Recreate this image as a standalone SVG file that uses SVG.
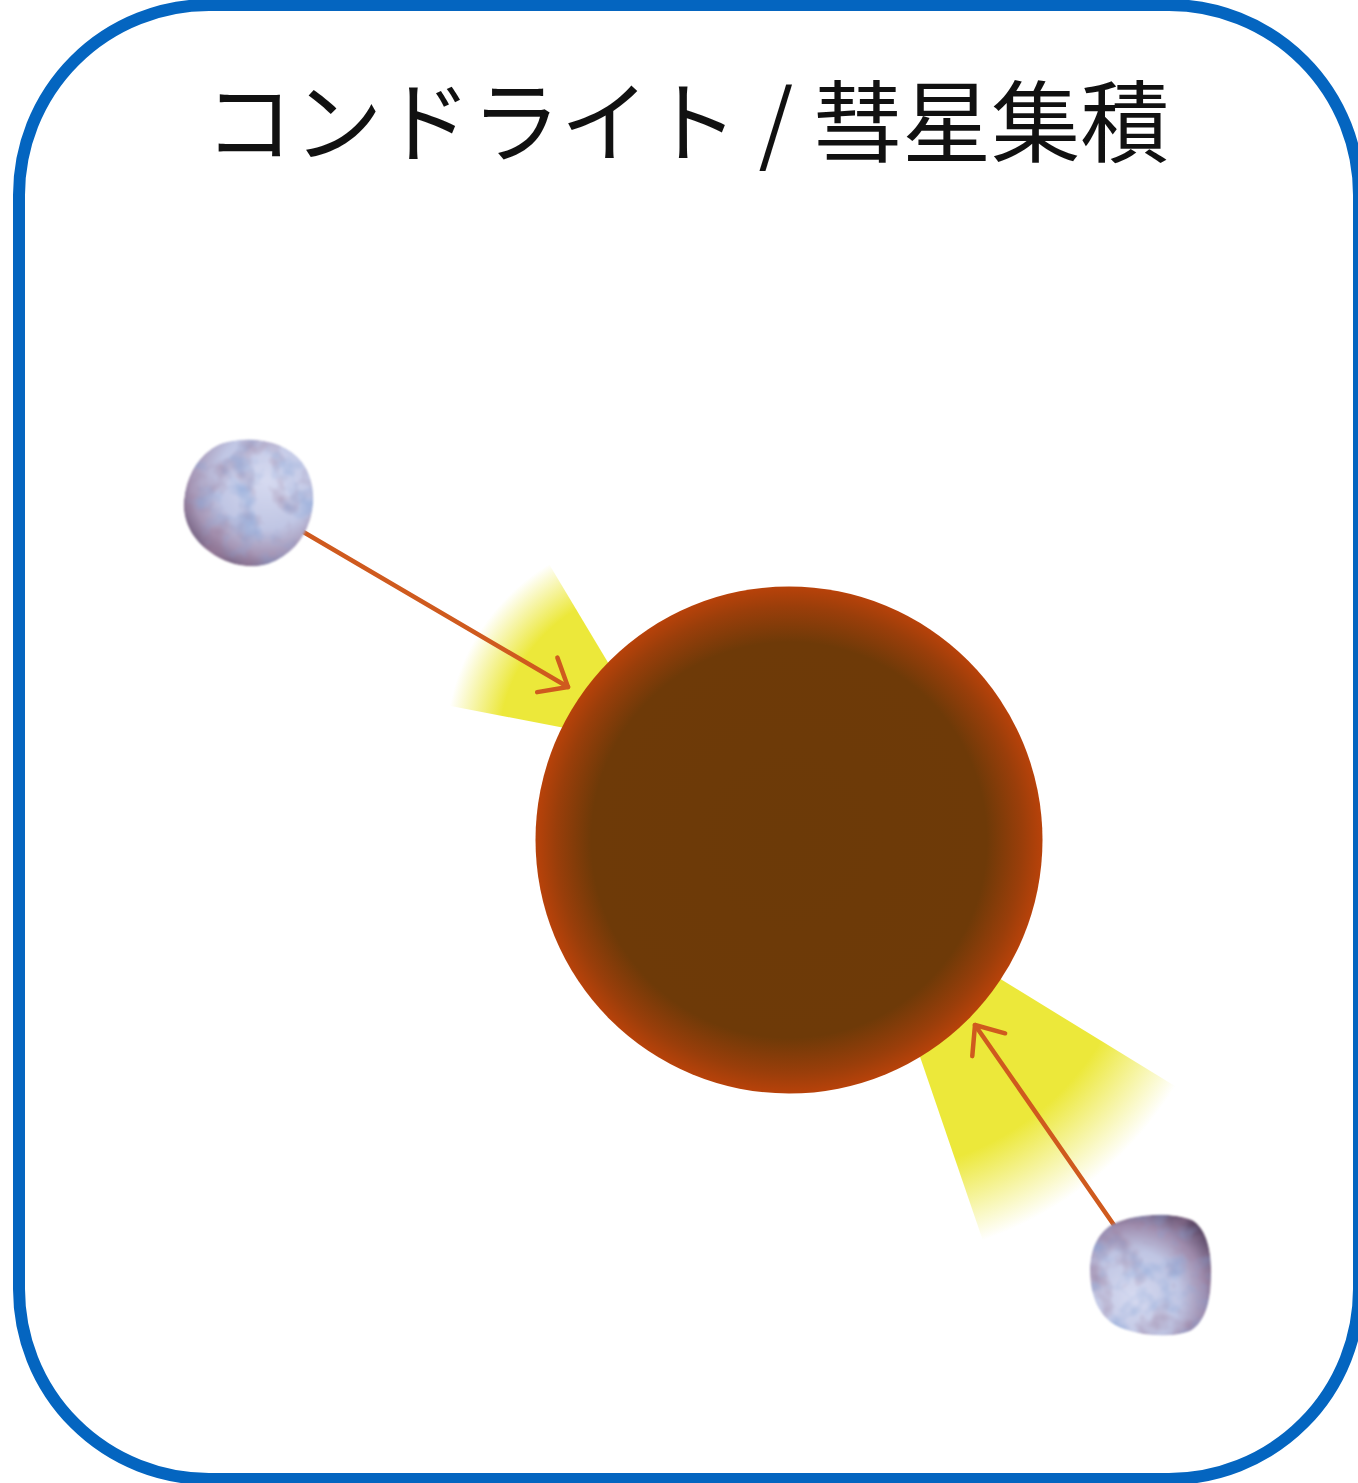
<svg xmlns="http://www.w3.org/2000/svg" width="1358" height="1483" viewBox="0 0 1358 1483">
  <style>
    .frame { fill: #ffffff; stroke: #0465c0; stroke-width: 12; }
    .title { font-family: "Noto Sans CJK JP", "Noto Sans", "Liberation Sans", sans-serif; font-size: 89px; fill: #111111; }
    .trail { fill: none; stroke: #cf5a1e; stroke-width: 4.5; stroke-linecap: round; marker-end: url(#openHead); }
  </style>
  <defs>
    <marker id="openHead" markerUnits="userSpaceOnUse" markerWidth="60" markerHeight="60" viewBox="-40 -30 50 60" refX="0" refY="0" orient="auto">
      <path d="M -24,-20 L 0,0 L -24,20" fill="none" stroke="#cf5a1e" stroke-width="4.5" stroke-linecap="round" stroke-linejoin="round"/>
    </marker>

    <!-- molten planet body -->
    <radialGradient id="planetFill" cx="0.5" cy="0.5" r="0.5">
      <stop offset="0" stop-color="#6c3a08"/>
      <stop offset="0.78" stop-color="#6e3a08"/>
      <stop offset="0.92" stop-color="#9a3e0a"/>
      <stop offset="1" stop-color="#b8420a"/>
    </radialGradient>

    <!-- impact glows, fading outward from the impact point -->
    <radialGradient id="glowUpper" gradientUnits="userSpaceOnUse" cx="658" cy="746" r="212">
      <stop offset="0" stop-color="#ece83a"/>
      <stop offset="0.75" stop-color="#ece83a"/>
      <stop offset="1" stop-color="#ece83a" stop-opacity="0"/>
    </radialGradient>
    <radialGradient id="glowLower" gradientUnits="userSpaceOnUse" cx="865" cy="896" r="364">
      <stop offset="0" stop-color="#ece83a"/>
      <stop offset="0.76" stop-color="#ece83a"/>
      <stop offset="1" stop-color="#ece83a" stop-opacity="0"/>
    </radialGradient>

    <!-- rocky bodies -->
    <radialGradient id="rockA" cx="0.64" cy="0.32" r="0.8">
      <stop offset="0" stop-color="#d6daf0"/>
      <stop offset="0.48" stop-color="#c0c6e4"/>
      <stop offset="0.74" stop-color="#a595b4"/>
      <stop offset="1" stop-color="#5c4666"/>
    </radialGradient>
    <radialGradient id="rockB" cx="0.36" cy="0.68" r="0.8">
      <stop offset="0" stop-color="#d6daf0"/>
      <stop offset="0.48" stop-color="#bfc5e3"/>
      <stop offset="0.74" stop-color="#9f8dae"/>
      <stop offset="1" stop-color="#54405e"/>
    </radialGradient>
    <filter id="rockTex" x="-10%" y="-10%" width="120%" height="120%" color-interpolation-filters="sRGB">
      <feTurbulence type="fractalNoise" baseFrequency="0.035" numOctaves="3" seed="7" result="n"/>
      <feColorMatrix in="n" type="matrix" values="0 0 0 0 0.52  0 0 0 0 0.64  0 0 0 0 0.84  1.7 0 0 0 -0.82" result="blue"/>
      <feColorMatrix in="n" type="matrix" values="0 0 0 0 0.60  0 0 0 0 0.48  0 0 0 0 0.60  0 1.5 0 0 -0.74" result="purple"/>
      <feMerge result="tex">
        <feMergeNode in="SourceGraphic"/>
        <feMergeNode in="purple"/>
        <feMergeNode in="blue"/>
      </feMerge>
      <feComposite in="tex" in2="SourceGraphic" operator="in" result="clipped"/>
      <feGaussianBlur in="clipped" stdDeviation="1.2"/>
    </filter>
  </defs>

  <!-- panel frame -->
  <rect class="frame" x="19" y="5" width="1340" height="1474" rx="190" ry="190"/>

  <g id="title">
    <text class="title" x="687" y="155" text-anchor="middle">コンドライト / 彗星集積</text>
  </g>

  <g id="impact-glows">
    <polygon id="glow-upper" points="658,746 537,544 425,701" fill="url(#glowUpper)"/>
    <polygon id="glow-lower" points="865,896 1214,1110 994,1273" fill="url(#glowLower)"/>
  </g>

  <g id="planet">
    <circle cx="789" cy="840" r="253.5" fill="url(#planetFill)"/>
  </g>

  <g id="connectors">
    <line class="trail" x1="300" y1="530" x2="568" y2="687"/>
    <line class="trail" x1="1116" y1="1228" x2="975" y2="1025"/>
  </g>

  <g id="asteroid-upper">
    <path d="M 232,441 C 260,436 288,444 302,462 C 314,478 316,500 310,520 C 304,540 290,556 268,564 C 248,570 226,564 210,552 C 192,540 182,520 184,500 C 186,478 196,460 210,450 C 216,445 224,442 232,441 Z" fill="url(#rockA)" filter="url(#rockTex)"/>
  </g>

  <g id="asteroid-lower">
    <path d="M 1113,1224 C 1132,1214 1170,1211 1192,1220 C 1206,1228 1212,1250 1211,1275 C 1211,1300 1206,1322 1190,1331 C 1170,1339 1135,1336 1115,1325 C 1098,1315 1090,1295 1090,1270 C 1090,1250 1098,1232 1113,1224 Z" fill="url(#rockB)" filter="url(#rockTex)"/>
  </g>
</svg>
